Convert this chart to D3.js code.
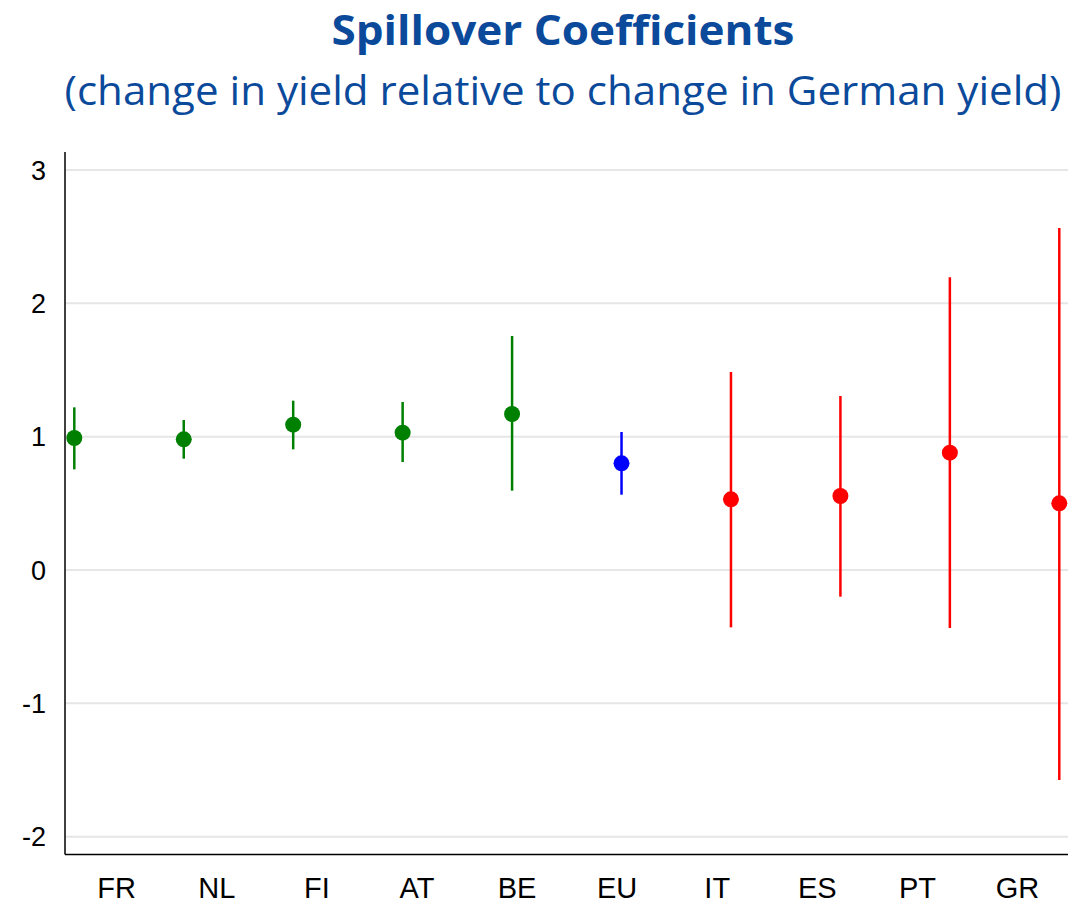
<!DOCTYPE html>
<html>
<head>
<meta charset="utf-8">
<script src="https://cdn.jsdelivr.net/npm/d3@7"></script>
<style>
  body { margin: 0; background: #fff; }
  svg { display: block; }
</style>
</head>
<body>
<div id="chart"></div>
<script>
// spillover estimates
var countries = ["FR", "NL", "FI", "AT", "BE", "EU", "IT", "ES", "PT", "GR"];
var coef  = [0.99, 0.98, 1.09, 1.03, 1.17, 0.80, 0.53, 0.555, 0.88, 0.50];
var lower = [0.755, 0.835, 0.905, 0.81, 0.595, 0.565, -0.43, -0.20, -0.435, -1.575];
var upper = [1.22, 1.125, 1.27, 1.26, 1.755, 1.035, 1.485, 1.305, 2.195, 2.565];
var groups = ["core", "core", "core", "core", "core", "avg", "periph", "periph", "periph", "periph"];
var yTicks = [-2, -1, 0, 1, 2, 3];

var colors = {core: "#008000", avg: "#0000ff", periph: "#ff0000"};

var width = 1088, height = 905;

var svg = d3.select("#chart").append("svg")
  .attr("width", width)
  .attr("height", height);

// titles
svg.append("text")
  .attr("x", 563).attr("y", 45)
  .attr("text-anchor", "middle")
  .attr("textLength", 463).attr("lengthAdjust", "spacingAndGlyphs")
  .style("font-family", "'Open Sans', sans-serif")
  .style("font-weight", "bold")
  .style("font-size", "42px")
  .style("fill", "#0b4a9b")
  .text("Spillover Coefficients");

svg.append("text")
  .attr("x", 563).attr("y", 105)
  .attr("text-anchor", "middle")
  .attr("textLength", 997).attr("lengthAdjust", "spacingAndGlyphs")
  .style("font-family", "'Open Sans', sans-serif")
  .style("font-size", "40px")
  .style("fill", "#0b4a9b")
  .text("(change in yield relative to change in German yield)");

// scales
var y = d3.scaleLinear().domain([-2, 3]).range([836.7, 170]);
var xPt = d3.scalePoint().domain(countries).range([74.3, 1059.3]);
// category labels sit on their own, slightly narrower spacing
var xLab = d3.scalePoint().domain(countries).range([116.7, 1017.5]);

var axisLeft = 65, axisRight = 1068, axisBottom = 854.5, axisTop = 152;

// grid
svg.append("g")
  .selectAll("line")
  .data(yTicks)
  .enter().append("line")
  .attr("x1", axisLeft + 1).attr("x2", axisRight)
  .attr("y1", function(d) { return y(d); })
  .attr("y2", function(d) { return y(d); })
  .attr("stroke", "#e6e6e6")
  .attr("stroke-width", 2);

// y tick labels
svg.append("g")
  .selectAll("text")
  .data(yTicks)
  .enter().append("text")
  .attr("x", 46)
  .attr("y", function(d) { return y(d); })
  .attr("dy", "0.36em")
  .attr("text-anchor", "end")
  .style("font-family", "'Liberation Sans', Arial, sans-serif")
  .style("font-size", "27px")
  .style("fill", "#000")
  .text(function(d) { return d; });

// axes lines
svg.append("line")
  .attr("x1", axisLeft).attr("x2", axisLeft)
  .attr("y1", axisTop).attr("y2", axisBottom)
  .attr("stroke", "#000").attr("stroke-width", 1.5);
svg.append("line")
  .attr("x1", axisLeft).attr("x2", axisRight)
  .attr("y1", axisBottom).attr("y2", axisBottom)
  .attr("stroke", "#000").attr("stroke-width", 1.5);

// x labels
svg.append("g")
  .selectAll("text")
  .data(countries)
  .enter().append("text")
  .attr("x", function(d) { return xLab(d); })
  .attr("y", 898)
  .attr("text-anchor", "middle")
  .style("font-family", "'Liberation Sans', Arial, sans-serif")
  .style("font-size", "29px")
  .style("fill", "#000")
  .text(function(d) { return d; });

// error bars + points
var rows = countries.map(function(c, i) {
  return {c: c, v: coef[i], lo: lower[i], hi: upper[i], g: groups[i]};
});

var marks = svg.append("g")
  .selectAll("g")
  .data(rows)
  .enter().append("g");

marks.append("line")
  .attr("x1", function(d) { return xPt(d.c); })
  .attr("x2", function(d) { return xPt(d.c); })
  .attr("y1", function(d) { return y(d.lo); })
  .attr("y2", function(d) { return y(d.hi); })
  .attr("stroke", function(d) { return colors[d.g]; })
  .attr("stroke-width", 2.5);

marks.append("circle")
  .attr("cx", function(d) { return xPt(d.c); })
  .attr("cy", function(d) { return y(d.v); })
  .attr("r", 8)
  .attr("fill", function(d) { return colors[d.g]; });
</script>
</body>
</html>
